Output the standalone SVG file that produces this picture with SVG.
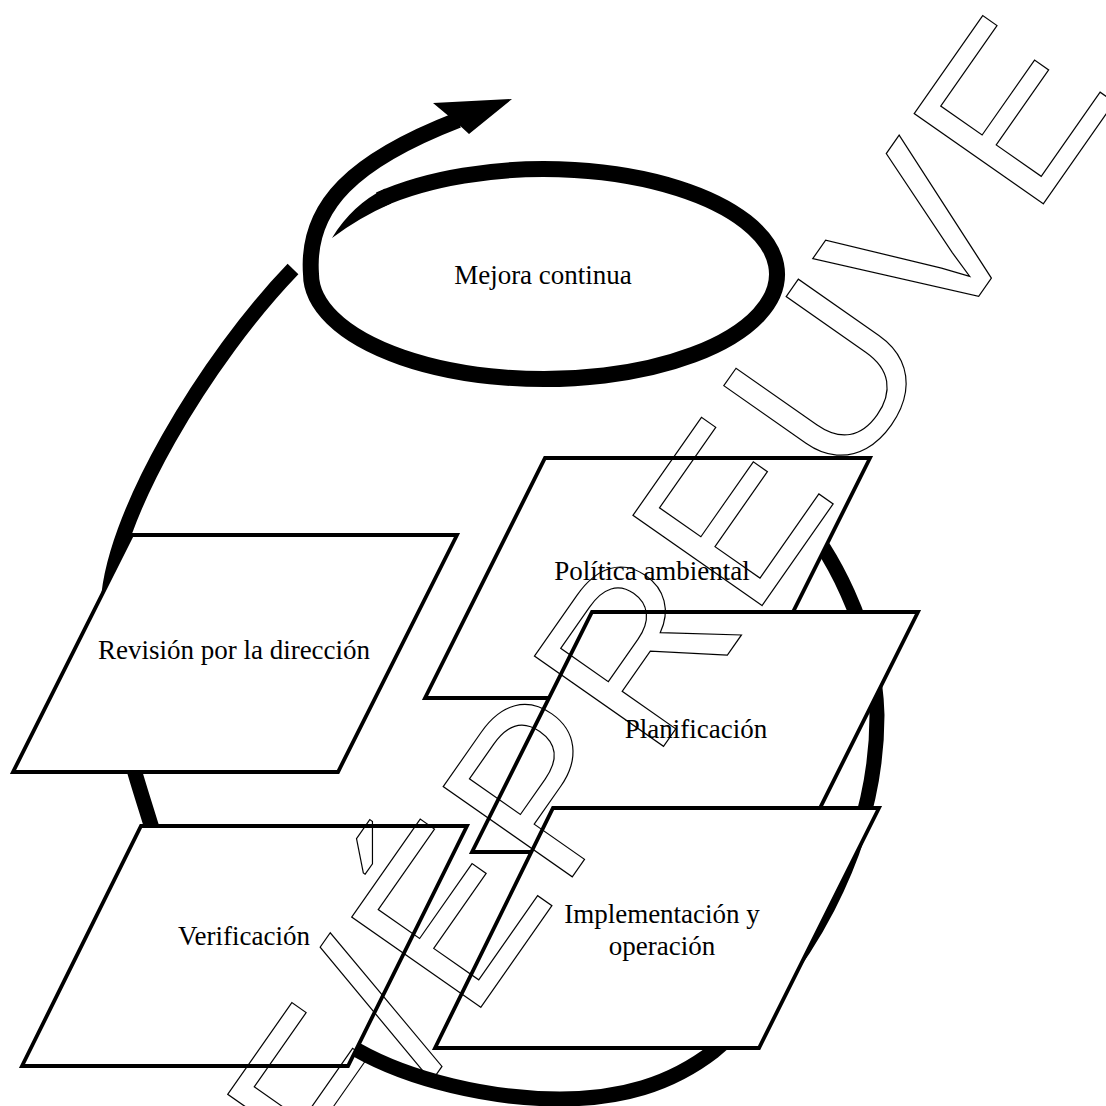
<svg xmlns="http://www.w3.org/2000/svg" width="1106" height="1106" viewBox="0 0 1106 1106">
<style>
.box{fill:#fff;stroke:#000;stroke-width:3.8;stroke-linejoin:miter}
.lbl{font-family:"Liberation Serif","Times New Roman",serif;font-size:27px;fill:#000;text-anchor:middle}
.ring{fill:none;stroke:#000;stroke-width:15}
.wm{font-family:"Liberation Sans",Arial,sans-serif;font-size:229px;fill:none;stroke:#000;stroke-width:1.2;letter-spacing:6.5px;font-kerning:none}
</style>
<rect width="1106" height="1106" fill="#fff"/>
<g id="connectors">
<path class="ring" d="M 789,505 C 830,545 875,630 877,715 C 877,850 800,980 714,1051 C 670,1085 620,1099 560,1099 C 490,1099 410,1080 357,1050 C 270,1000 180,920 151,825 C 135,772 105,690 108,610 C 108,520 208,357 293,269"/>
</g>
<g id="mejora">
<path d="M 332,238 Q 352,205 385.1,188.6 L 391.1,203.4 Q 358,218 332,238 Z" fill="#000"/>
<path d="M 379.3,199.8 A 233 105 0 1 1 311,274 C 306,205 355,160 458,120" fill="none" stroke="#000" stroke-width="16"/>
<polygon points="433,103 512,99 469,134 457,123" fill="#000"/>
<text class="lbl" x="543" y="284">Mejora continua</text>
</g>
<g id="politica">
<polygon class="box" points="545,458 870,458 750,698 425,698"/>
<text class="lbl" x="652" y="580">Política ambiental</text>
</g>
<g id="planificacion">
<polygon class="box" points="592,612 918,612 798,852 472,852"/>
<text class="lbl" x="696" y="738">Planificación</text>
</g>
<g id="implementacion">
<polygon class="box" points="553,808 879,808 759,1048 435,1048"/>
<text class="lbl" x="662" y="923">Implementación y</text>
<text class="lbl" x="662" y="955">operación</text>
</g>
<g id="revision">
<polygon class="box" points="132,535 457,535 338,772 13,772"/>
<text class="lbl" x="234" y="659">Revisión por la dirección</text>
</g>
<g id="verificacion">
<polygon class="box" points="141,826 467,826 348,1066 22,1066"/>
<text class="lbl" x="244" y="945">Verificación</text>
</g>
<g id="watermark">
<text class="wm" transform="translate(345.9,1200) rotate(-55)">F/ÉPREUVE</text>
</g>
</svg>
